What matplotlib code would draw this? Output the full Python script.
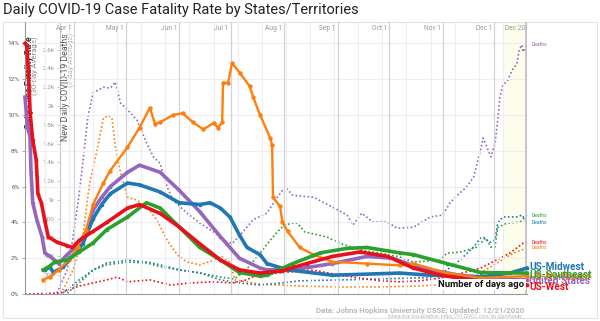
import matplotlib
matplotlib.use("Agg")
import matplotlib.pyplot as plt

plt.rcParams['font.family'] = ['Roboto', 'DejaVu Sans']

# ---- Case fatality rate (30-day average, %) by region ----
us_cfr_days = [-291.5, -290, -288.6, -288, -287, -284.5, -281.6, -280, -277, -272, -267, -262.5,
               -256, -252, -247, -242, -232, -225, -213, -202, -190, -178, -167, -155, -151,
               -136, -113, -93, -78, -62, -39, -16, 0]
us_cfr = [11.0, 9.3, 8.8, 6.8, 5.1, 4.1, 3.2, 2.3, 2.1, 1.7, 2.2, 2.6,
          3.4, 4.7, 5.4, 6.0, 6.8, 7.2, 6.8, 5.8, 4.6, 3.2, 2.0, 1.45, 1.35,
          1.35, 1.7, 2.1, 2.0, 1.45, 1.05, 0.85, 0.8]

midwest_cfr_days = [-280, -277, -275, -269.5, -264, -258, -252, -247, -242, -232, -225, -213,
                    -202, -190, -184, -178, -172.5, -167, -162.6, -155, -151, -139, -113, -74,
                    -56, -27, -10, 0]
midwest_cfr = [1.35, 1.5, 1.2, 1.5, 2.1, 2.8, 4.2, 5.0, 5.6, 6.2, 6.1, 5.7,
               5.1, 5.0, 5.1, 4.8, 4.3, 3.3, 2.6, 2.2, 1.7, 1.35, 1.05, 1.17,
               1.05, 0.95, 1.17, 1.45]

northeast_cfr_days = [-281, -277, -272, -266, -261, -256, -252, -246, -242, -232, -225, -219,
                      -216, -213, -205.6, -200, -194, -188, -182, -179.4, -177, -176.5, -173.6,
                      -171.3, -166.7, -161, -159, -155, -149, -148, -147.5, -143.4, -142, -139,
                      -132, -124, -113, -93, -74, -66, -46.5, -27, 0]
northeast_cfr = [0.8, 0.95, 1.35, 1.9, 2.6, 3.6, 5.0, 6.2, 6.9, 8.2, 9.3, 10.4,
                 9.5, 9.6, 10.0, 10.1, 9.6, 9.2, 9.55, 9.3, 9.6, 11.8, 11.8,
                 12.9, 12.35, 11.6, 11.0, 10.0, 8.7, 8.3, 5.4, 4.9, 4.0, 3.5,
                 2.6, 2.2, 1.8, 1.7, 1.6, 1.7, 1.17, 0.9, 1.0]

southeast_cfr_days = [-281, -278, -274, -267, -260, -252, -244, -232, -221, -213, -202, -190,
                      -178, -167, -155, -151, -136, -120, -104.5, -93, -74, -66, -46.5, -27, 0]
southeast_cfr = [1.35, 1.5, 1.8, 1.9, 2.35, 2.85, 3.6, 4.3, 5.1, 4.8, 3.75, 2.6,
                 1.9, 1.2, 1.0, 1.05, 1.7, 2.3, 2.55, 2.6, 2.3, 2.2, 1.7, 1.2, 1.17]

west_cfr_days = [-291.5, -290.5, -289.5, -288.5, -287, -285, -284, -282, -280, -278, -273, -267,
                 -264, -260, -252, -244, -232, -225, -213, -202, -190, -178, -167, -155, -142,
                 -128, -113, -97, -81, -66, -50, -33, -16, 0]
west_cfr = [14.0, 13.9, 12.4, 10.1, 8.6, 7.5, 5.6, 5.1, 4.1, 3.2, 2.9, 2.7,
            2.6, 3.0, 3.5, 4.0, 4.8, 5.0, 4.5, 3.75, 2.8, 1.9, 1.35, 1.17, 1.3,
            1.7, 2.1, 2.35, 2.1, 1.45, 1.05, 0.8, 0.6, 0.5]

# ---- New daily deaths (7-day average) ----
us_deaths_days = [-273, -267, -263.6, -260.7, -258.4, -255, -252, -249, -246, -242, -239, -236,
                  -232, -226.5, -220.7, -217, -213, -209, -205.6, -197.4, -190, -182, -174, -171,
                  -165, -159, -151, -145, -140.5, -136, -124, -113, -104.5, -101, -96, -89.4,
                  -81, -75.5, -66, -56, -49, -44.7, -39, -35, -31, -27, -25.5, -21, -18.6, -17,
                  -15.7, -14, -11, -8.7, -5.8, -4.6, -2.9, -2.3, 0]
us_deaths = [10, 255, 605, 970, 1320, 1880, 2140, 2170, 2200, 2190, 2255, 2030,
             1960, 1850, 1600, 1460, 1390, 1140, 1000, 860, 755, 660, 550, 540,
             660, 790, 860, 1030, 1140, 1050, 1030, 925, 840, 735, 860, 765,
             765, 700, 710, 820, 840, 970, 1075, 1140, 1245, 1530, 1660, 1460, 1600, 1850,
             2100, 2220, 2280, 2380, 2450, 2600, 2650, 2575, 2650]

northeast_deaths_days = [-269.5, -263.6, -258, -254, -250, -246, -243, -241, -239, -236, -232,
                         -226.5, -220.7, -215, -209, -203, -197.4, -190, -182, -177, -172.5,
                         -169.6, -155, -132, -108.6, -85, -62, -44.7, -31, -17.4, -8, 0]
northeast_deaths = [40, 255, 605, 1180, 1500, 1870, 1900, 1870, 1560, 1290, 1030,
                    1000, 925, 790, 575, 415, 340, 310, 360, 395, 340,
                    150, 105, 85, 75, 75, 85, 105, 180, 330, 435, 490]

west_deaths_days = [-291.5, -271, -267, -260, -252, -244, -238, -232, -219, -207, -196, -182,
                    -171, -163, -157, -138, -124, -108.6, -97, -85, -74, -62, -46.5, -27, -20,
                    -10, -2.3, 0]
west_deaths = [0, 10, 40, 85, 117, 150, 180, 130, 150, 95, 117, 130,
               117, 150, 200, 235, 255, 200, 170, 140, 130, 140, 180, 275, 340,
               435, 540, 550]

southeast_deaths_days = [-267, -260, -252, -244, -232, -220.7, -213, -201.5, -190, -178, -170,
                         -163, -155, -149, -143, -140.5, -136, -133.5, -129, -124, -116, -108.6,
                         -97, -85, -74, -66, -50.5, -46.5, -39, -29, -24, -21, -18.6, -17, -11.6,
                         -4, 0]
southeast_deaths = [10, 117, 255, 310, 340, 330, 290, 255, 225, 180, 160,
                    260, 435, 575, 700, 735, 755, 755, 660, 640, 605, 540,
                    470, 435, 395, 340, 360, 435, 445, 500, 595, 500, 500, 710, 755,
                    765, 840]

midwest_deaths_days = [-269.5, -260, -252, -244, -232, -220.7, -213, -201.5, -190, -178, -167,
                       -155, -143, -132, -108.6, -85, -68, -56, -46.5, -39, -31, -27, -25.5,
                       -21.5, -18.6, -17, -14, -10, -5.8, -3, 0]
midwest_deaths = [10, 150, 255, 330, 360, 340, 310, 255, 225, 150, 117,
                  95, 117, 140, 150, 160, 170, 175, 255, 360, 500, 595, 605,
                  550, 575, 755, 820, 820, 820, 840, 765]

# ---- Axis annotations ----
day_ticks = list(range(-280, 1, 14))
month_days = [-263, -233, -202, -172, -141, -110, -80, -49, -19, 0]
month_labels = ['Apr 1', 'May 1', 'Jun 1', 'Jul 1', 'Aug 1', 'Sep 1', 'Oct 1', 'Nov 1', 'Dec 1', 'Dec 20']
cfr_ticks = [0, 2, 4, 6, 8, 10, 12, 14]
death_ticks = [200, 400, 600, 800, 1000, 1200, 1400, 1600, 1800, 2000, 2200, 2400, 2600]

BLUE, ORANGE, GREEN, RED, PURPLE = '#1f77b4', '#ff7f0e', '#2ca02c', '#e8101a', '#9467bd'

W, H = 600, 321
L, R, T, B = 25, 527, 22, 294
fig = plt.figure(figsize=(W / 100, H / 100), dpi=100)
fig.patch.set_facecolor('white')

# outer frame of the card
fig.add_artist(plt.Rectangle((3 / W, 1 - 318 / H), 594 / W, 296 / H, transform=fig.transFigure,
                             fill=False, edgecolor='#e4e2ea', lw=0.8))

ax2 = fig.add_axes([L / W, 1 - B / H, (R - L) / W, (B - T) / H])
ax = ax2.twinx()
ax.set_zorder(ax2.get_zorder() + 1)
ax.patch.set_visible(False)

xmin = -291.5
for a in (ax, ax2):
    a.set_xlim(xmin, 0)
    for s in a.spines.values():
        s.set_visible(False)

ax.set_ylim(0, 15.2)
ax2.set_ylim(0, 15.2 * 190.4)

# last two weeks highlight
ax2.axvspan(-14, 0, color='#fdfdec', zorder=0, lw=0)

# grid
for yv in cfr_ticks[1:]:
    ax.axhline(yv, color='#eeedf3', lw=0.8, zorder=0)
for d in day_ticks:
    ax.axvline(d, color='#eeedf3', lw=0.8, zorder=0)
for d in month_days[:-1]:
    ax.axvline(d, color='#d2d0d8', lw=0.9, zorder=0.5)
ax.axvline(0, color='#c2bec9', lw=2.6, zorder=0.6)

# CFR axis on the left spine
ax.yaxis.tick_left()
ax.spines['left'].set_visible(True)
ax.spines['left'].set_color('#9a98a2')
ax.spines['left'].set_linewidth(0.8)
ax.set_yticks(cfr_ticks)
ax.set_yticklabels([f'{v}%' for v in cfr_ticks], fontsize=4.6, color='#555555')
ax.tick_params(axis='y', length=2.5, width=0.6, color='#9a98a2', pad=1.5)

# x axis
ax.spines['bottom'].set_visible(True)
ax.spines['bottom'].set_color('#9a98a2')
ax.spines['bottom'].set_linewidth(0.8)
ax.set_xticks(day_ticks)
ax.set_xticklabels([str(d) for d in day_ticks], fontsize=4.8, color='#555555')
ax.tick_params(axis='x', length=2.5, width=0.6, color='#9a98a2', pad=2)

# deaths axis, offset inside the plot
ax2.spines['left'].set_visible(True)
ax2.spines['left'].set_position(('axes', 0.0697))
ax2.spines['left'].set_color('#c8c6ce')
ax2.spines['left'].set_linewidth(0.8)
ax2.yaxis.tick_left()
ax2.set_yticks(death_ticks)
ax2.set_yticklabels([f'{v / 1000:g}k' if v >= 1000 else str(v) for v in death_ticks],
                    fontsize=4.6, color='#9a9a9a')
ax2.tick_params(axis='y', length=2.5, width=0.6, color='#c8c6ce', pad=1.5)
ax2.set_xticks([])

# month markers along the top
for d, lab in zip(month_days, month_labels):
    ax.text(d - 1.2, 14.85, lab, fontsize=4.8, color='#9a9a9a', ha='right', va='center', zorder=1)

# deaths (dotted)
dot = (0, (1, 1.4))
for days, vals, c in [(us_deaths_days, us_deaths, PURPLE),
                      (northeast_deaths_days, northeast_deaths, ORANGE),
                      (southeast_deaths_days, southeast_deaths, GREEN),
                      (midwest_deaths_days, midwest_deaths, BLUE),
                      (west_deaths_days, west_deaths, RED)]:
    ax2.plot(days, vals, color=c, lw=1.2, ls=dot, zorder=2, clip_on=False)
    ax2.annotate('Deaths', xy=(days[-1], vals[-1]), xytext=(3, 0), textcoords='offset points',
                 fontsize=3.6, color=c, va='center', ha='left', annotation_clip=False)

# case fatality rate (thick)
for days, vals, c, lw, ms in [(us_cfr_days, us_cfr, PURPLE, 2.6, 2.6),
                              (midwest_cfr_days, midwest_cfr, BLUE, 2.6, 2.6),
                              (northeast_cfr_days, northeast_cfr, ORANGE, 1.7, 3.2),
                              (southeast_cfr_days, southeast_cfr, GREEN, 2.6, 2.6),
                              (west_cfr_days, west_cfr, RED, 2.6, 2.6)]:
    ax.plot(days, vals, color=c, lw=lw, marker='o', ms=ms, mew=0, zorder=3,
            solid_joinstyle='round', clip_on=False)

# rotated axis titles
fig.text(29 / W, 1 - 36 / H, 'Daily Case Fatality Rate', rotation=90, fontsize=6.3,
         fontweight='bold', color='#333333', ha='center', va='top', zorder=0)
fig.text(35.5 / W, 1 - 36 / H, '(30-day Average)', rotation=90, fontsize=5.6,
         color='#8a8a8a', ha='center', va='top', zorder=0)
fig.text(65 / W, 1 - 33 / H, 'New Daily COVID-19 Deaths', rotation=90, fontsize=6.3,
         color='#555555', ha='center', va='top', zorder=0)
fig.text(71.5 / W, 1 - 33 / H, '(7-day Average)', rotation=90, fontsize=5.6,
         color='#b0b0b0', ha='center', va='top', zorder=0)

# series names at the right edge
for lab, c, yp in [('US-Midwest', BLUE, 267.5), ('US-Northeast', ORANGE, 276.5),
                   ('US-Southeast', GREEN, 275), ('United States', PURPLE, 281.5),
                   ('US-West', RED, 287.5)]:
    fig.text(529 / W, 1 - yp / H, lab, fontsize=7.2, fontweight='bold', color=c,
             ha='left', va='center')

ax.text(-1.5, 0.28, 'Number of days ago', fontsize=6.8, fontweight='bold', color='#111111',
        ha='right', va='bottom', zorder=5,
        bbox=dict(boxstyle='square,pad=0.15', fc='white', ec='none'))

fig.text(3 / W, 1 - 10 / H, 'Daily COVID-19 Case Fatality Rate by States/Territories',
         fontsize=10.5, color='#222222', ha='left', va='center')
fig.text(524 / W, 1 - 310 / H, 'Data: Johns Hopkins University CSSE; Updated: 12/21/2020',
         fontsize=5.6, color='#b8b8b8', ha='right', va='center', fontweight='bold')
fig.text(524 / W, 1 - 316 / H, 'Interactive Visualization: https://91-DIVOC.com/ by @profwade_',
         fontsize=3.4, color='#b8b8b8', ha='right', va='center')

fig.savefig('out.png', dpi=100)
